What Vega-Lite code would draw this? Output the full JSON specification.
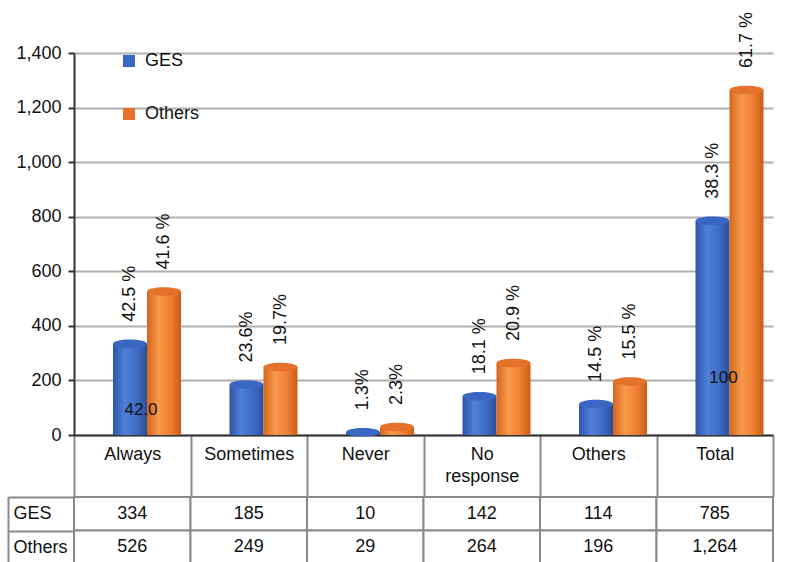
{
  "$schema": "https://vega.github.io/schema/vega-lite/v6.json",
  "padding": {"left": 7, "top": 12, "right": 5, "bottom": 0},
  "config": {"font": "Liberation Sans", "view": {"stroke": null}},
  "spacing": 62,
  "bounds": "flush",
  "datasets": {
    "d": [
      {"cat": "Always", "series": "GES", "value": 334, "pct": "42.5 %"},
      {"cat": "Always", "series": "Others", "value": 526, "pct": "41.6 %"},
      {"cat": "Sometimes", "series": "GES", "value": 185, "pct": "23.6%"},
      {"cat": "Sometimes", "series": "Others", "value": 249, "pct": "19.7%"},
      {"cat": "Never", "series": "GES", "value": 10, "pct": "1.3%"},
      {"cat": "Never", "series": "Others", "value": 29, "pct": "2.3%"},
      {"cat": "No response", "series": "GES", "value": 142, "pct": "18.1 %"},
      {"cat": "No response", "series": "Others", "value": 264, "pct": "20.9 %"},
      {"cat": "Others", "series": "GES", "value": 114, "pct": "14.5 %"},
      {"cat": "Others", "series": "Others", "value": 196, "pct": "15.5 %"},
      {"cat": "Total", "series": "GES", "value": 785, "pct": "38.3 %"},
      {"cat": "Total", "series": "Others", "value": 1264, "pct": "61.7 %"}
    ],
    "notes": [
      {"cat": "Always", "series": "GES", "value": 92, "label": "42.0"},
      {"cat": "Total", "series": "GES", "value": 210, "label": "100"}
    ]
  },
  "vconcat": [
    {
      "width": 699,
      "height": 382,
      "data": {"name": "d"},
      "encoding": {
        "x": {
          "field": "cat", "type": "nominal",
          "sort": ["Always", "Sometimes", "Never", "No response", "Others", "Total"],
          "scale": {"paddingInner": 0, "paddingOuter": 0},
          "axis": {
            "title": null, "domainColor": "#333333", "domainWidth": 2,
            "tickBand": "extent", "tickSize": 62, "tickColor": "#8a8a8a", "tickWidth": 2,
            "labelPadding": -52, "labelFontSize": 18, "labelColor": "#111111", "labelAngle": 0,
            "labelLineHeight": 22,
            "labelExpr": "datum.label == 'No response' ? ['No', 'response'] : datum.label"
          }
        },
        "xOffset": {
          "field": "series", "type": "nominal",
          "scale": {"domain": ["GES", "Others"], "range": [39, 107], "paddingInner": 0, "paddingOuter": 0}
        },
        "y": {
          "field": "value", "type": "quantitative",
          "scale": {"domain": [0, 1400]},
          "axis": {
            "title": null, "values": [0, 200, 400, 600, 800, 1000, 1200, 1400], "format": ",.0f",
            "domainColor": "#333333", "domainWidth": 2, "tickColor": "#333333", "tickWidth": 2,
            "tickSize": 6, "labelPadding": 7, "labelFontSize": 18, "labelColor": "#111111",
            "gridColor": "#b0b0b0", "gridWidth": 2
          }
        }
      },
      "layer": [
        {
          "transform": [{"filter": "datum.series === 'GES'"}],
          "mark": {
            "type": "bar",
            "fill": {"gradient": "linear", "x1": 0, "x2": 1, "y1": 0, "y2": 0,
              "stops": [
                {"offset": 0, "color": "#2c55a8"},
                {"offset": 0.35, "color": "#5080d8"},
                {"offset": 0.7, "color": "#3e6cc6"},
                {"offset": 1, "color": "#2a4f98"}
              ]}
          }
        },
        {
          "transform": [{"filter": "datum.series === 'Others'"}],
          "mark": {
            "type": "bar",
            "fill": {"gradient": "linear", "x1": 0, "x2": 1, "y1": 0, "y2": 0,
              "stops": [
                {"offset": 0, "color": "#d4651c"},
                {"offset": 0.35, "color": "#f89a4c"},
                {"offset": 0.7, "color": "#ef7f30"},
                {"offset": 1, "color": "#c85c18"}
              ]}
          }
        },
        {
          "mark": {
            "type": "point", "filled": true, "opacity": 1, "size": 1156,
            "shape": "M-1,0A1,0.25,0,1,0,1,0A1,0.25,0,1,0,-1,0Z"
          },
          "encoding": {
            "color": {
              "field": "series", "type": "nominal",
              "scale": {"domain": ["GES", "Others"], "range": ["#3a67c4", "#e5722a"]},
              "legend": {
                "title": null, "orient": "none", "legendX": 46, "legendY": -1,
                "symbolType": "square", "symbolSize": 144, "symbolStrokeWidth": 0,
                "labelFontSize": 18, "labelColor": "#111111", "rowPadding": 35,
                "padding": 0, "labelOffset": 7
              }
            }
          }
        },
        {
          "mark": {"type": "text", "angle": 270, "align": "left", "baseline": "middle", "dx": 22, "fontSize": 18, "color": "#111111"},
          "encoding": {"text": {"field": "pct"}}
        },
        {
          "data": {"name": "notes"},
          "mark": {"type": "text", "fontSize": 17, "dx": 11, "color": "#111111"},
          "encoding": {"text": {"field": "label"}}
        }
      ]
    },
    {
      "width": 699,
      "height": 67,
      "data": {"name": "d"},
      "encoding": {
        "x": {
          "field": "cat", "type": "nominal",
          "sort": ["Always", "Sometimes", "Never", "No response", "Others", "Total"],
          "scale": {"paddingInner": 0, "paddingOuter": 0},
          "axis": null
        },
        "y": {
          "field": "series", "type": "nominal", "sort": ["GES", "Others"],
          "scale": {"paddingInner": 0, "paddingOuter": 0},
          "axis": {
            "title": null, "offset": 66, "domainColor": "#8a8a8a", "domainWidth": 2,
            "tickBand": "extent", "tickSize": -66, "tickColor": "#8a8a8a", "tickWidth": 2,
            "labelAlign": "left", "labelPadding": 61, "labelFontSize": 18, "labelColor": "#111111"
          }
        }
      },
      "layer": [
        {"mark": {"type": "rect", "fill": "white", "stroke": "#8a8a8a", "strokeWidth": 2}},
        {
          "mark": {"type": "text", "fontSize": 18, "color": "#111111"},
          "encoding": {"text": {"field": "value", "type": "quantitative", "format": ","}}
        }
      ]
    }
  ]
}
